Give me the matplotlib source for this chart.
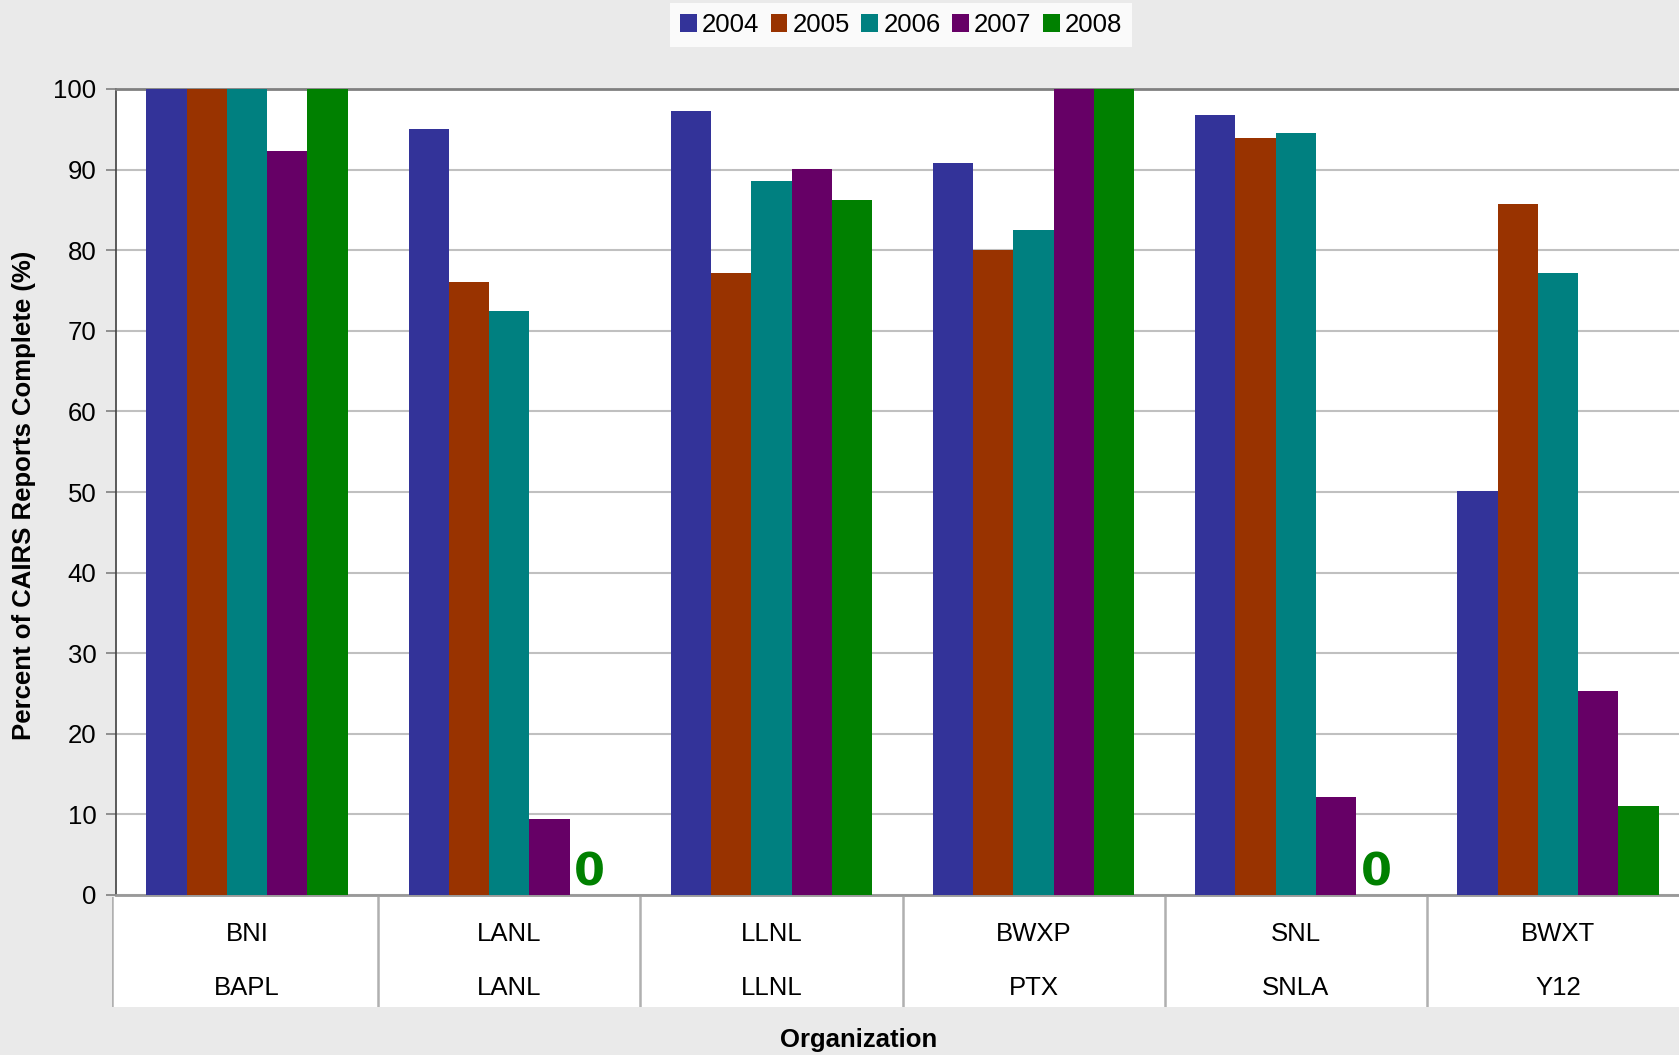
import matplotlib.pyplot as plt
import numpy as np

plt.rcParams['font.family'] = ['Liberation Sans', 'DejaVu Sans']

orgs = ['BNI', 'LANL', 'LLNL', 'BWXP', 'SNL', 'BWXT']
sites = ['BAPL', 'LANL', 'LLNL', 'PTX', 'SNLA', 'Y12']
years = ['2004', '2005', '2006', '2007', '2008']
colors = ['#333399', '#993300', '#008080', '#660066', '#008000']

pct_2004 = [100, 95.0, 97.3, 90.8, 96.8, 50.1]
pct_2005 = [100, 76.0, 77.2, 80.0, 93.9, 85.7]
pct_2006 = [100, 72.5, 88.6, 82.5, 94.6, 77.2]
pct_2007 = [92.3, 9.4, 90.1, 100, 12.2, 25.3]
pct_2008 = [100, 0, 86.2, 100, 0, 11.1]
series = [pct_2004, pct_2005, pct_2006, pct_2007, pct_2008]

W, H = 1679, 1055
bg = '#eaeaea'
fig = plt.figure(figsize=(W / 100, H / 100), dpi=100, facecolor=bg)

# plot area runs a little past the right edge of the picture
x0, x1 = 116, 1689
ax = fig.add_axes([x0 / W, 1 - 895 / H, (x1 - x0) / W, (895 - 89) / H])
ax.set_facecolor('white')

x = np.arange(len(orgs))
bw = 0.1536
for i, (vals, c, yr) in enumerate(zip(series, colors, years)):
    pos = x + (i - 2) * bw
    ax.bar(pos, vals, width=bw, color=c, label=yr, zorder=3)
    for p, v in zip(pos, vals):
        if v == 0:
            ax.text(p, 0.1, '0', ha='center', va='bottom', color=c,
                    fontsize=32, fontweight='bold', family='DejaVu Sans', zorder=4)

ax.set_xlim(-0.5, len(orgs) - 0.5)
ax.set_ylim(0, 100)
ax.set_yticks(range(0, 101, 10))
ax.tick_params(axis='y', labelsize=18.5, length=7, width=1.2, color='#808080', pad=7)
ax.set_xticks([])
ax.yaxis.grid(True, color='#c0c0c0', linewidth=1.5, zorder=0)
ax.spines['left'].set_color('#404040')
ax.spines['left'].set_linewidth(1.2)
ax.spines['top'].set_color('#808080')
ax.spines['top'].set_linewidth(2)
ax.spines['bottom'].set_color('#999999')
ax.spines['bottom'].set_linewidth(2)
ax.spines['right'].set_visible(False)

# category table under the bars
unit = (x1 - x0) / len(orgs)
tab = fig.add_axes([112 / W, 1 - 1007 / H, (x1 - 112) / W, (1007 - 897) / H])
tab.set_facecolor('white')
left = -0.5 - 4 / unit
tab.set_xlim(left, len(orgs) - 0.5)
tab.set_ylim(0, 1)
tab.set_xticks([])
tab.set_yticks([])
for s in tab.spines.values():
    s.set_visible(False)
tab.axvline(left, color='#b0b0b0', linewidth=1.8)
for b in np.arange(0.5, len(orgs) - 0.5):
    tab.axvline(b, color='#b0b0b0', linewidth=1.8)
for i in range(len(orgs)):
    tab.text(i, 0.66, orgs[i], ha='center', va='center', fontsize=18.5)
    tab.text(i, 0.17, sites[i], ha='center', va='center', fontsize=18.5)

fig.text(24 / W, 1 - 495 / H, 'Percent of CAIRS Reports Complete (%)', rotation=90,
         ha='center', va='center', fontsize=18.5, fontweight='bold')
fig.text(859 / W, 1 - 1040 / H, 'Organization', ha='center', va='center',
         fontsize=18.5, fontweight='bold')

leg = fig.legend(loc='center', bbox_to_anchor=(901 / W, 1 - 25 / H), ncol=5,
                 fontsize=18.5, frameon=True, facecolor='white', edgecolor='white',
                 fancybox=False, handlelength=0.65, handleheight=0.65,
                 handletextpad=0.2, columnspacing=0.45, borderpad=0.4)
leg.get_frame().set_linewidth(0)

fig.savefig('out.png', dpi=100, facecolor=bg)
